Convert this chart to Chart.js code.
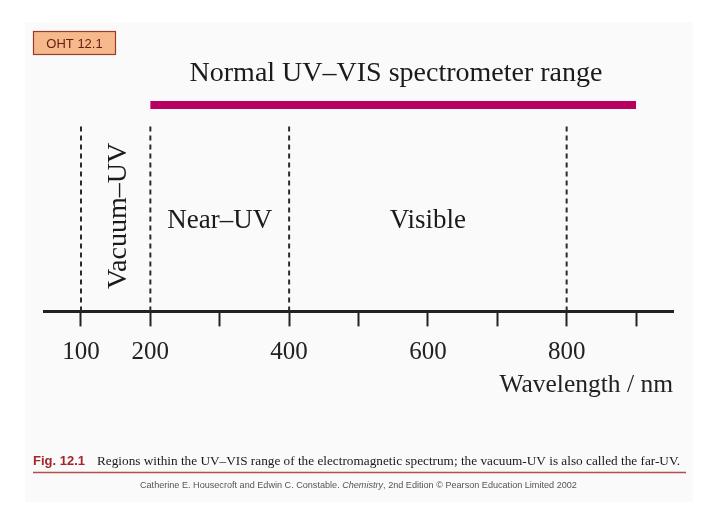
<!DOCTYPE html>
<html>
<head>
<meta charset="utf-8">
<script src="https://cdn.jsdelivr.net/npm/chart.js@4.4.0/dist/chart.umd.min.js"></script>
<style>
  html, body { margin: 0; padding: 0; background: #fff; }
  #wrap { width: 720px; height: 509px; }
</style>
</head>
<body>
<div id="wrap"><canvas id="spectrum" width="720" height="509"></canvas></div>
<script>
// wavelength axis (nm)
const tickValues = [100, 200, 300, 400, 500, 600, 700, 800, 900];
const labelledTicks = [100, 200, 400, 600, 800];
const boundaries = [100, 200, 400, 800];

// regions between the dashed boundaries
const regionNames = ["Vacuum–UV", "Near–UV", "Visible"];
const regionStart = [100, 200, 400];
const regionEnd = [200, 400, 800];

// normal spectrometer range (the magenta bar)
const rangeName = "Normal UV–VIS spectrometer range";
const rangeStart = 200;
const rangeEnd = 900;

const caption = "Regions within the UV–VIS range of the electromagnetic spectrum; the vacuum-UV is also called the far-UV.";

// vertical placement of the marks, in y-scale units (0 = axis, 100 = top of area)
const BAR_LEVEL = 89.6;
const DASH_TOP = 81.7;

const serif = "'Liberation Serif', 'Times New Roman', serif";
const sans = "'Liberation Sans', Arial, sans-serif";

Chart.defaults.font.family = serif;
Chart.defaults.color = "#222";

const datasets = [
  {
    label: rangeName,
    data: [{ x: rangeStart, y: BAR_LEVEL }, { x: rangeEnd, y: BAR_LEVEL }],
    borderColor: "#b7005f",
    borderWidth: 8,
    borderCapStyle: "butt",
    pointRadius: 0,
  },
];
boundaries.forEach(function (b) {
  datasets.push({
    label: "boundary " + b,
    data: [{ x: b, y: 0 }, { x: b, y: DASH_TOP }],
    borderColor: "#2a2a2a",
    borderWidth: 2,
    borderDash: [5, 4],
    pointRadius: 0,
  });
});

// set the font so the text fills the given width
const fitText = function (ctx, text, style, family, size, width) {
  ctx.font = style + " " + size + "px " + family;
  const w = ctx.measureText(text).width;
  ctx.font = style + " " + (size * width / w).toFixed(2) + "px " + family;
};

const extras = {
  id: "extras",
  beforeDraw(chart) {
    const ctx = chart.ctx;
    ctx.save();
    ctx.fillStyle = "#fafafa";
    ctx.fillRect(25, 22, 668, 480);
    ctx.restore();
  },
  afterDraw(chart) {
    const ctx = chart.ctx;
    const x = chart.scales.x;
    ctx.save();

    // OHT tag
    ctx.fillStyle = "#f6b98b";
    ctx.fillRect(33, 31, 83, 24);
    ctx.strokeStyle = "#9a3b2b";
    ctx.lineWidth = 1.2;
    ctx.strokeRect(33.5, 31.5, 82, 23);
    ctx.fillStyle = "#6a1a10";
    ctx.font = "13px " + sans;
    ctx.textAlign = "center";
    ctx.textBaseline = "middle";
    ctx.fillText("OHT 12.1", 74.5, 44);

    // range title
    ctx.fillStyle = "#1a1a1a";
    ctx.font = "28px " + serif;
    ctx.textAlign = "center";
    ctx.textBaseline = "alphabetic";
    ctx.fillText(rangeName, 396, 81);

    // region labels
    regionNames.forEach(function (name, i) {
      const cx = (x.getPixelForValue(regionStart[i]) + x.getPixelForValue(regionEnd[i])) / 2;
      if (i === 0) {
        ctx.save();
        ctx.translate(cx + 1, 216);
        ctx.rotate(-Math.PI / 2);
        ctx.font = "28px " + serif;
        ctx.textAlign = "center";
        ctx.textBaseline = "middle";
        ctx.fillText(name, 0, 2);
        ctx.restore();
      } else {
        ctx.font = "27px " + serif;
        ctx.textAlign = "center";
        ctx.textBaseline = "alphabetic";
        ctx.fillText(name, cx, 228);
      }
    });

    // figure caption
    ctx.textAlign = "left";
    ctx.textBaseline = "alphabetic";
    ctx.fillStyle = "#a3262a";
    ctx.font = "bold 13px " + sans;
    ctx.fillText("Fig. 12.1", 33, 465);
    ctx.fillStyle = "#1a1a1a";
    fitText(ctx, caption, "", serif, 13, 583);
    ctx.fillText(caption, 97, 465);

    ctx.strokeStyle = "#b0504a";
    ctx.lineWidth = 1.5;
    ctx.beginPath();
    ctx.moveTo(33, 472.5);
    ctx.lineTo(686, 472.5);
    ctx.stroke();

    // credit line
    const parts = [
      ["", "Catherine E. Housecroft and Edwin C. Constable. "],
      ["italic", "Chemistry"],
      ["", ", 2nd Edition © Pearson Education Limited 2002"],
    ];
    let total = 0;
    parts.forEach(function (p) {
      ctx.font = p[0] + " 10px " + sans;
      total += ctx.measureText(p[1]).width;
    });
    const size = Math.min(10, 10 * 437 / total);
    let px = 140;
    ctx.fillStyle = "#555";
    parts.forEach(function (p) {
      ctx.font = p[0] + " " + size.toFixed(2) + "px " + sans;
      ctx.fillText(p[1], px, 488);
      px += ctx.measureText(p[1]).width;
    });

    ctx.restore();
  },
};

new Chart(document.getElementById("spectrum"), {
  type: "line",
  data: { datasets: datasets },
  options: {
    responsive: false,
    animation: false,
    layout: { padding: { left: 44, right: 47, top: 81, bottom: 108 } },
    plugins: {
      legend: { display: false },
      tooltip: { enabled: false },
    },
    scales: {
      x: {
        type: "linear",
        min: 46.7,
        max: 953.3,
        afterBuildTicks: function (axis) {
          axis.ticks = tickValues.map(function (v) {
            return { value: v };
          });
        },
        ticks: {
          autoSkip: false,
          maxRotation: 0,
          padding: 11,
          color: "#222",
          font: { family: serif, size: 25 },
          callback: function (v) {
            return labelledTicks.includes(v) ? String(v) : "";
          },
        },
        grid: {
          drawOnChartArea: false,
          tickLength: 15,
          tickWidth: 2,
          color: "#222",
        },
        border: { display: true, color: "#222", width: 3 },
        title: {
          display: true,
          text: "Wavelength / nm",
          align: "end",
          color: "#222",
          font: { family: serif, size: 25.5 },
          padding: { top: -8, bottom: 0 },
        },
      },
      y: {
        type: "linear",
        display: false,
        min: 0,
        max: 100,
      },
    },
  },
  plugins: [extras],
});
</script>
</body>
</html>
